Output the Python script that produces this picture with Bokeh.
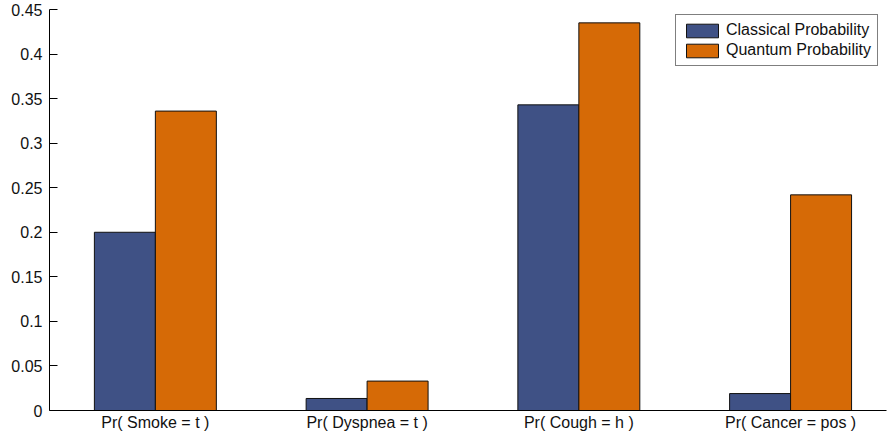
from bokeh.plotting import figure
from bokeh.models import ColumnDataSource, FixedTicker, Legend, LegendItem, Range1d
from bokeh.transform import dodge
from bokeh.embed import file_html
from bokeh.resources import INLINE

categories = ["Pr( Smoke = t )", "Pr( Dyspnea = t )", "Pr( Cough = h )", "Pr( Cancer = pos )"]
classical = [0.200, 0.0135, 0.343, 0.019]
quantum = [0.336, 0.033, 0.435, 0.242]
series_names = ["Classical Probability", "Quantum Probability"]
y_ticks = [0, 0.05, 0.1, 0.15, 0.2, 0.25, 0.3, 0.35, 0.4, 0.45]
y_tick_labels = ["0", "0.05", "0.1", "0.15", "0.2", "0.25", "0.3", "0.35", "0.4", "0.45"]

BLUE = "#3f5185"
ORANGE = "#d66a06"
FONT = "Liberation Sans"

xpos = [i + 1 for i in range(len(categories))]
src = ColumnDataSource(dict(x=xpos, classical=classical, quantum=quantum))

p = figure(width=889, height=438, output_backend="svg", toolbar_location=None,
           x_range=Range1d(0.5, 4.453), y_range=Range1d(0, 0.45),
           min_border_left=49, min_border_top=9, min_border_right=3, min_border_bottom=28)
p.outline_line_color = None
p.grid.visible = False
p.background_fill_color = "white"
p.border_fill_color = "white"

w = 0.288
r1 = p.vbar(x=dodge("x", -w / 2), top="classical", width=w, source=src,
            fill_color=BLUE, line_color="#111111", line_width=1)
r2 = p.vbar(x=dodge("x", w / 2), top="quantum", width=w, source=src,
            fill_color=ORANGE, line_color="#111111", line_width=1)

# axes
p.yaxis.ticker = FixedTicker(ticks=y_ticks)
p.yaxis.major_label_overrides = {t: l for t, l in zip(y_ticks, y_tick_labels)}
p.yaxis.major_tick_in = 8
p.yaxis.major_tick_out = 0
p.yaxis.minor_tick_line_color = None
p.yaxis.major_label_standoff = 7

p.xaxis.ticker = FixedTicker(ticks=xpos)
p.xaxis.major_label_overrides = {x: c for x, c in zip(xpos, categories)}
p.xaxis.major_tick_in = 0
p.xaxis.major_tick_out = 0
p.xaxis.minor_tick_line_color = None
p.xaxis.major_label_standoff = 3

for ax in (p.xaxis, p.yaxis):
    ax.axis_line_color = "#000000"
    ax.major_tick_line_color = "#000000"
    ax.major_label_text_font = FONT
    ax.major_label_text_font_size = "16px"
    ax.major_label_text_color = "#111111"

legend = Legend(items=[LegendItem(label=series_names[0], renderers=[r1]),
                       LegendItem(label=series_names[1], renderers=[r2])],
                location=(626, 344), margin=0, padding=6, spacing=2,
                glyph_width=40, glyph_height=17, label_height=17,
                label_standoff=4,
                label_text_font=FONT, label_text_font_size="16px",
                label_text_color="#111111",
                border_line_color="#000000", border_line_width=1,
                background_fill_color="white", background_fill_alpha=1)
p.add_layout(legend)

open("out.html", "w").write(file_html(p, INLINE))
